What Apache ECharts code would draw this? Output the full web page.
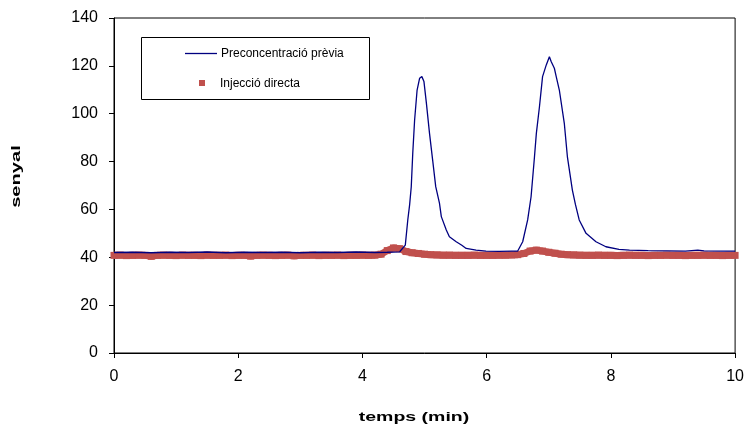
<!DOCTYPE html>
<html>
<head>
<meta charset="utf-8">
<script src="https://cdn.jsdelivr.net/npm/echarts@6/dist/echarts.min.js"></script>
<style>
html,body{margin:0;padding:0;background:#fff;}
#chart{width:747px;height:430px;}
</style>
</head>
<body>
<div id="chart"></div>
<script>
// ---- data ----
var xTicks = [0, 2, 4, 6, 8, 10];
var yTicks = [0, 20, 40, 60, 80, 100, 120, 140];
var seriesNames = ['Preconcentració prèvia', 'Injecció directa'];

// Preconcentració prèvia: [temps (min), senyal]
var prevTimes = [0, 0.3, 0.6, 0.9, 1.2, 1.5, 1.8, 2.1, 2.4, 2.7, 3.0, 3.3, 3.6, 3.9, 4.2, 4.4, 4.6,
  4.69, 4.73, 4.76, 4.786, 4.81, 4.84, 4.88, 4.92, 4.957, 4.99, 5.03, 5.08, 5.13, 5.18, 5.24, 5.27,
  5.35, 5.40, 5.51, 5.6, 5.67, 5.83, 5.99, 6.2, 6.4, 6.5, 6.58, 6.66, 6.715, 6.77, 6.80, 6.85, 6.90,
  6.96, 7.01, 7.04, 7.06, 7.09, 7.12, 7.17, 7.25, 7.30, 7.38, 7.43, 7.49, 7.60, 7.76, 7.92, 8.13,
  8.30, 8.6, 8.9, 9.2, 9.4, 9.5, 9.8, 10];
var prevValues = [42.0, 42.1, 41.9, 42.1, 42.0, 42.2, 41.9, 42.1, 42.0, 42.1, 41.9, 42.1, 42.0, 42.2, 42.0, 42.1, 42.3,
  45.1, 55.6, 62.0, 69.5, 83.4, 97.4, 109.9, 114.8, 115.5, 113.5, 104.3, 91.8, 80.7, 69.5, 62.6, 57.0,
  51.4, 48.6, 46.5, 45.0, 43.7, 43.0, 42.6, 42.5, 42.6, 42.6, 46.5, 55.6, 65.3, 82.0, 91.8, 102.9, 115.5,
  120.4, 123.8, 121.7, 122.4, 119.0, 115.5, 109.9, 96.0, 82.0, 68.1, 62.0, 55.6, 50.0, 46.5, 44.4, 43.3,
  43.0, 42.8, 42.7, 42.6, 43.0, 42.7, 42.6, 42.6];

// Injecció directa: sampled every 0.1 min from 0 to 10
var directTimes = [0.0,0.1,0.2,0.3,0.4,0.5,0.6,0.7,0.8,0.9,1.0,1.1,1.2,1.3,1.4,1.5,1.6,1.7,1.8,1.9,
  2.0,2.1,2.2,2.3,2.4,2.5,2.6,2.7,2.8,2.9,3.0,3.1,3.2,3.3,3.4,3.5,3.6,3.7,3.8,3.9,
  4.0,4.1,4.2,4.3,4.4,4.5,4.6,4.7,4.8,4.9,5.0,5.1,5.2,5.3,5.4,5.5,5.6,5.7,5.8,5.9,
  6.0,6.1,6.2,6.3,6.4,6.5,6.6,6.7,6.8,6.9,7.0,7.1,7.2,7.3,7.4,7.5,7.6,7.7,7.8,7.9,
  8.0,8.1,8.2,8.3,8.4,8.5,8.6,8.7,8.8,8.9,9.0,9.1,9.2,9.3,9.4,9.5,9.6,9.7,9.8,9.9,10.0];
var directValues = [40.8,40.9,40.7,40.8,40.9,40.8,40.4,40.8,40.9,40.8,40.7,40.9,40.8,40.8,40.7,40.9,40.8,40.8,40.9,40.7,
  40.8,40.8,40.5,40.8,40.9,40.8,40.7,40.8,40.9,40.6,40.8,40.8,40.9,40.7,40.8,40.8,40.9,40.7,40.8,40.8,
  40.9,40.8,40.9,41.3,42.8,43.9,43.6,42.4,41.9,41.6,41.3,41.1,41.0,40.9,40.9,40.8,40.8,40.8,40.9,40.8,
  40.8,40.8,40.9,40.9,41.0,41.1,41.6,42.6,43.0,42.6,42.1,41.7,41.3,41.1,41.0,40.9,40.8,40.8,40.9,40.8,
  40.8,40.7,40.8,40.9,40.8,40.8,40.7,40.8,40.8,40.9,40.8,40.8,40.7,40.8,40.8,40.9,40.8,40.8,40.7,40.8,40.8];

var FONT = 'Liberation Sans, Arial, sans-serif';
function pairs(xs, ys) { return xs.map(function (x, i) { return [x, ys[i]]; }); }

var chart = echarts.init(document.getElementById('chart'), null, {renderer: 'canvas'});
chart.setOption({
  animation: false,
  backgroundColor: '#ffffff',
  grid: {left: 114, right: 11, top: 18, bottom: 77, show: true, borderColor: '#000', borderWidth: 1, backgroundColor: 'transparent'},
  xAxis: {
    type: 'value', min: xTicks[0], max: xTicks[xTicks.length - 1], interval: 2,
    axisLine: {show: true, onZero: false, lineStyle: {color: '#000', width: 1}},
    axisTick: {show: true, inside: false, length: 5, lineStyle: {color: '#000'}},
    axisLabel: {color: '#000', fontFamily: FONT, fontSize: 16, margin: 16},
    splitLine: {show: false}
  },
  yAxis: {
    type: 'value', min: yTicks[0], max: yTicks[yTicks.length - 1], interval: 20,
    axisLine: {show: true, onZero: false, lineStyle: {color: '#000', width: 1}},
    axisTick: {show: true, inside: false, length: 5, lineStyle: {color: '#000'}},
    axisLabel: {color: '#000', fontFamily: FONT, fontSize: 16, margin: 16},
    splitLine: {show: false}
  },
  series: [
    {
      name: seriesNames[1], type: 'line', data: pairs(directTimes, directValues),
      symbol: 'rect', symbolSize: 7, showAllSymbol: true, clip: false,
      itemStyle: {color: '#C0504D'},
      lineStyle: {color: '#C0504D', width: 7},
      z: 2
    },
    {
      name: seriesNames[0], type: 'line', data: pairs(prevTimes, prevValues),
      symbol: 'none', smooth: false,
      lineStyle: {color: '#000080', width: 1.3},
      z: 3
    }
  ],
  graphic: [
    {type: 'rect', left: 141, top: 37, shape: {width: 228, height: 62},
      style: {fill: '#fff', stroke: '#000', lineWidth: 1}, z: 10},
    {type: 'line', shape: {x1: 185, y1: 53.5, x2: 217, y2: 53.5},
      style: {stroke: '#000080', lineWidth: 1.3}, z: 11},
    {type: 'text', x: 221, y: 53.5, style: {text: seriesNames[0], fontFamily: FONT, fontSize: 12, fill: '#000', align: 'left', verticalAlign: 'middle'}, z: 11},
    {type: 'rect', shape: {x: 199, y: 80, width: 6, height: 6}, style: {fill: '#C0504D'}, z: 11},
    {type: 'text', x: 220, y: 83.5, style: {text: seriesNames[1], fontFamily: FONT, fontSize: 12, fill: '#000', align: 'left', verticalAlign: 'middle'}, z: 11},
    {type: 'text', x: 16.5, y: 176.5, rotation: Math.PI / 2, scaleX: 1.55, scaleY: 1,
      style: {text: 'senyal', fontFamily: FONT, fontSize: 13, fontWeight: 'bold', fill: '#000', align: 'center', verticalAlign: 'middle'}, z: 11},
    {type: 'text', x: 414, y: 417, scaleX: 1.5, scaleY: 1,
      style: {text: 'temps (min)', fontFamily: FONT, fontSize: 13, fontWeight: 'bold', fill: '#000', align: 'center', verticalAlign: 'middle'}, z: 11}
  ]
});
</script>
</body>
</html>
